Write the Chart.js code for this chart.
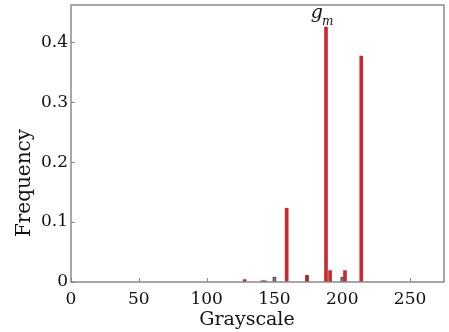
<!DOCTYPE html>
<html>
<head>
<meta charset="utf-8">
<script src="https://cdn.jsdelivr.net/npm/chart.js@4"></script>
<style>
html,body{margin:0;padding:0;background:#fff;}
#wrap{width:449px;height:332px;}
</style>
</head>
<body>
<div id="wrap"><canvas id="c" width="449" height="332"></canvas></div>
<script>
const grayLevels = [128, 141, 143, 150, 159, 174, 188, 191, 200, 202, 214];
const frequencies = [0.004, 0.002, 0.002, 0.008, 0.123, 0.011, 0.425, 0.019, 0.008, 0.019, 0.377];
const barColors = ['#c8282e','#c8282e','#c8282e','#555555','#c8282e','#b02020','#c8282e','#c8282e','#555555','#c8282e','#c8282e'];
const xTicks = [0, 50, 100, 150, 200, 250];
const yTicks = [0, 0.1, 0.2, 0.3, 0.4];
const xTitle = 'Grayscale';
const yTitle = 'Frequency';
const peakLabelIndex = 6;

const FONT = "'DejaVu Serif', serif";

const framePlugin = {
  id: 'frame',
  afterDatasetsDraw(chart) {
    const {ctx, chartArea: a, scales} = chart;
    ctx.save();
    ctx.strokeStyle = '#8a8a8a';
    ctx.lineWidth = 1.5;
    ctx.strokeRect(a.left, a.top, a.right - a.left, a.bottom - a.top);
    ctx.lineWidth = 1;
    ctx.beginPath();
    xTicks.forEach(v => {
      const px = Math.round(scales.x.getPixelForValue(v)) + 0.5;
      ctx.moveTo(px, a.bottom); ctx.lineTo(px, a.bottom - 4);
    });
    yTicks.forEach(v => {
      const py = Math.round(scales.y.getPixelForValue(v)) + 0.5;
      ctx.moveTo(a.left, py); ctx.lineTo(a.left + 4, py);
    });
    ctx.stroke();
    // axis titles
    ctx.fillStyle = '#111';
    ctx.textAlign = 'center';
    ctx.textBaseline = 'middle';
    ctx.font = "19px " + FONT;
    ctx.fillText(xTitle, 247, 320);
    ctx.save();
    ctx.translate(25, 183);
    ctx.rotate(-Math.PI / 2);
    ctx.font = "20px " + FONT;
    ctx.fillText(yTitle, 0, 0);
    ctx.restore();
    // peak label g_m
    const px = scales.x.getPixelForValue(grayLevels[peakLabelIndex]);
    const py = scales.y.getPixelForValue(frequencies[peakLabelIndex]);
    ctx.textBaseline = 'alphabetic';
    ctx.font = "italic 19px " + FONT;
    ctx.textAlign = 'right';
    ctx.fillText('g', px - 3, py - 9);
    ctx.font = "italic 12px " + FONT;
    ctx.textAlign = 'left';
    ctx.fillText('m', px - 4, py - 2);
    ctx.restore();
  }
};

new Chart(document.getElementById('c'), {
  type: 'bar',
  data: {
    datasets: [{
      data: grayLevels.map((g, i) => ({x: g, y: frequencies[i]})),
      backgroundColor: barColors,
      barThickness: 3,
      borderWidth: 0
    }]
  },
  options: {
    responsive: false,
    animation: false,
    devicePixelRatio: 1,
    layout: {padding: {top: 5, right: 5, left: 0, bottom: 0}},
    plugins: {legend: {display: false}, tooltip: {enabled: false}},
    scales: {
      x: {
        type: 'linear',
        offset: false,
        min: 0, max: 275,
        afterBuildTicks: s => { s.ticks = xTicks.map(v => ({value: v})); },
        afterFit: s => { s.paddingLeft = 0; s.paddingRight = 0; s.height = 50; },
        grid: {display: false, drawTicks: false, offset: false},
        border: {display: false},
        ticks: {font: {family: FONT, size: 17}, color: '#111', padding: 7, maxRotation: 0,
          callback: v => String(v)},
        title: {display: false}
      },
      y: {
        min: 0, max: 0.462,
        afterBuildTicks: s => { s.ticks = yTicks.map(v => ({value: v})); },
        afterFit: s => { s.paddingTop = 0; s.paddingBottom = 0; s.width = 71; },
        grid: {display: false, drawTicks: false},
        border: {display: false},
        ticks: {font: {family: FONT, size: 17}, color: '#111', padding: 3,
          callback: v => v === 0 ? '0' : String(Math.round(v * 10) / 10)},
        title: {display: false}
      }
    }
  },
  plugins: [framePlugin]
});
</script>
</body>
</html>
